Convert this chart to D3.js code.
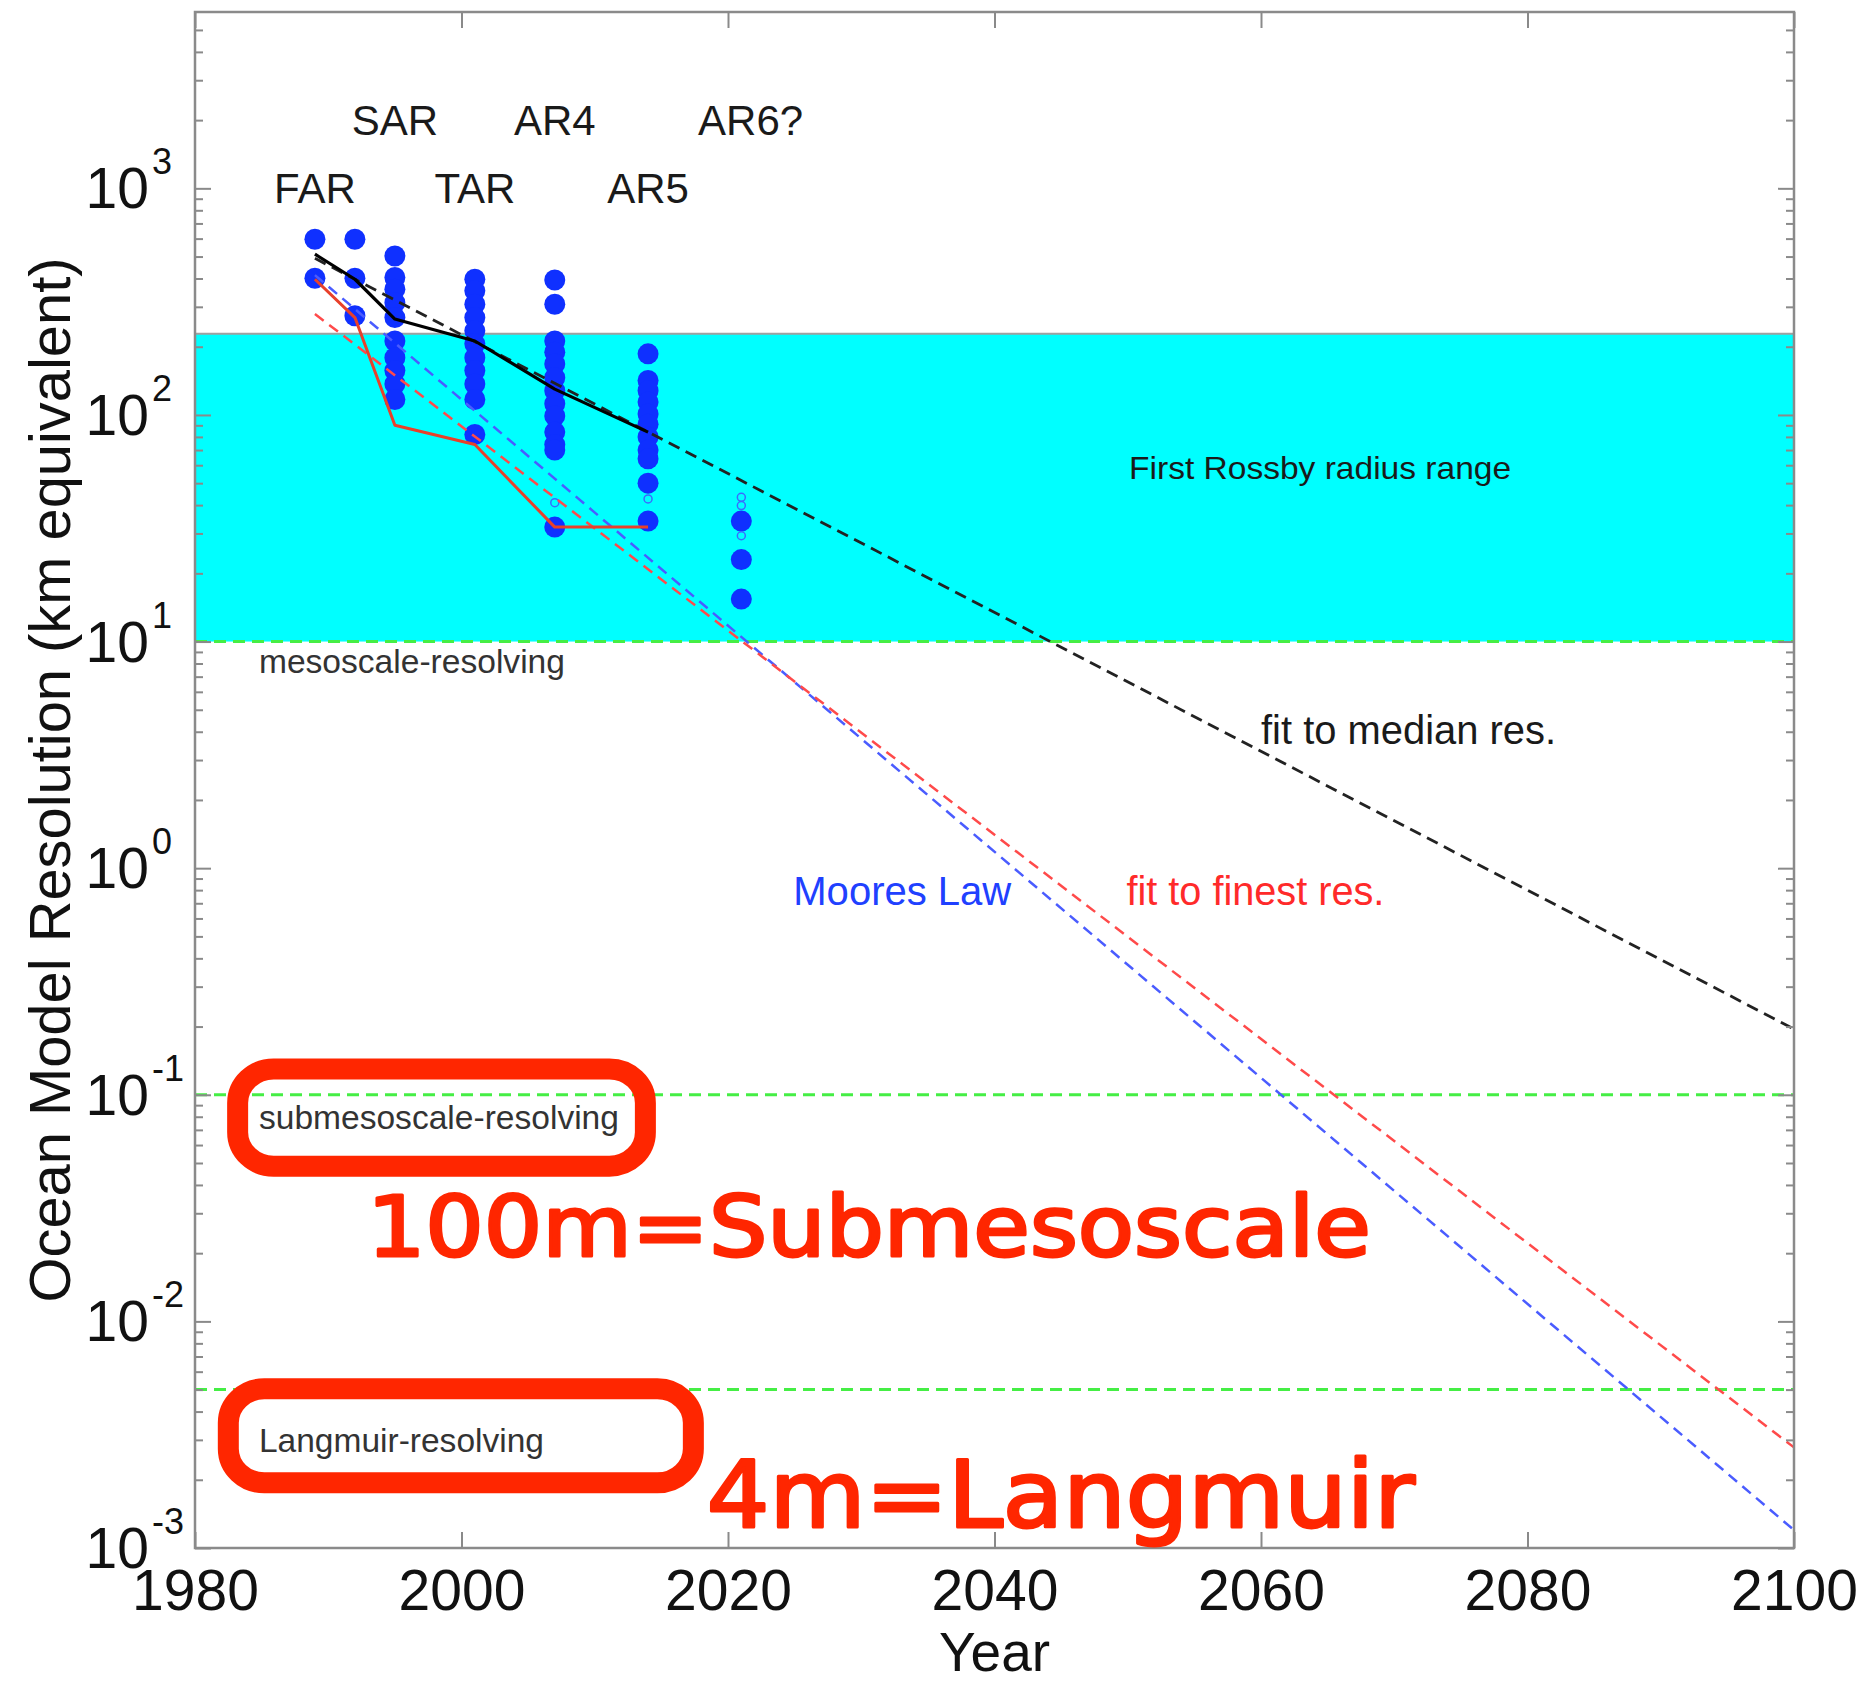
<!DOCTYPE html>
<html>
<head>
<meta charset="utf-8">
<script src="https://cdn.jsdelivr.net/npm/d3@7"></script>
<style>
	body { margin: 0; background: #fff; }
	svg { display: block; font-family: "Liberation Sans", Arial, Helvetica, sans-serif; }
	.tick line { stroke: #8a8a8a; stroke-width: 2; }
	.domain { display: none; }
</style>
</head>
<body>
<svg id="chart" width="1860" height="1682"></svg>
<script>
"use strict";

// Data

// model generations (IPCC reports) and the resolutions of their ocean models (km)
const modelYears = [1989, 1992, 1995, 2001, 2007, 2014, 2021];
const modelRes = [
	[596, 401],
	[596, 401, 274],
	[503, 404, 359, 313, 269, 212, 179, 157, 137, 117],
	[397, 353, 308, 269, 235, 206, 179, 157, 137, 117, 82],
	[394, 308, 212, 189, 168, 146, 128, 112, 99, 84, 74, 70, 32],
	[186, 142, 128, 114, 101, 91, 80, 70, 64, 50, 34],
	[34, 23, 15.4]
];
// small open markers
const openYears = [2007, 2014, 2021, 2021, 2021];
const openRes = [41, 42.6, 43.3, 39.8, 29.3];

// median and finest resolution per report
const medianYears = [1989, 1992, 1995, 2001, 2007, 2014];
const medianRes = [512, 397, 265, 212, 130, 84];
const finestYears = [1989, 1992, 1995, 2001, 2007, 2014];
const finestRes = [397, 269, 90, 74, 32, 32];

// fitted trends, start and end points
const fitYears = [1989, 2100];
const fitMedian = [491, 0.195];
const fitFinest = [279, 0.00278];
const mooresLaw = [414, 0.0012];

// reference scales (km)
const rossbyRange = [10, 228];
const scaleLines = [10, 0.1, 0.005];

// report labels
const reportNames = ["FAR", "SAR", "TAR", "AR4", "AR5", "AR6?"];
const reportYears = [1989, 1995, 2001, 2007, 2014, 2021.7];
const reportRes = [1000, 2000, 1000, 2000, 1000, 2000];

// axes
const xTicks = [1980, 2000, 2020, 2040, 2060, 2080, 2100];
const yDecades = [-3, -2, -1, 0, 1, 2, 3];

// Set up chart

const svg = d3.select("#chart");
const width = +svg.attr("width");
const height = +svg.attr("height");
const margin = { top: 12, right: 66, bottom: 134, left: 195 };

const x = d3.scaleLinear()
	.domain([1980, 2100])
	.range([margin.left, width - margin.right]);

const y = d3.scaleLog()
	.domain([1e-3, 6000])
	.range([height - margin.bottom, margin.top]);

const x0 = x.range()[0], x1 = x.range()[1];
const yTop = y.range()[1], yBottom = y.range()[0];

// Rossby radius band
svg.append("rect")
	.attr("x", x0)
	.attr("width", x1 - x0)
	.attr("y", y(rossbyRange[1]))
	.attr("height", y(rossbyRange[0]) - y(rossbyRange[1]))
	.style("fill", "#00ffff");

svg.append("line")
	.attr("x1", x0).attr("x2", x1)
	.attr("y1", y(rossbyRange[1])).attr("y2", y(rossbyRange[1]))
	.style("stroke", "#a0a0a0")
	.style("stroke-width", 2);

// green dashed scale lines
svg.append("g")
	.selectAll("line")
	.data(scaleLines)
	.enter()
	.append("line")
	.attr("x1", x0).attr("x2", x1)
	.attr("y1", d => y(d)).attr("y2", d => y(d))
	.style("stroke", "#45ee45")
	.style("stroke-width", 3)
	.style("stroke-dasharray", "12,7");

// blue dots for each model
const dots = [];
modelYears.forEach(function(yr, i) {
	modelRes[i].forEach(function(r) {
		dots.push({ year: yr, res: r });
	});
});

svg.append("g")
	.selectAll("circle")
	.data(dots)
	.enter()
	.append("circle")
	.attr("cx", d => x(d.year))
	.attr("cy", d => y(d.res))
	.attr("r", 10.5)
	.style("fill", "#0f30ff");

svg.append("g")
	.selectAll("circle")
	.data(openYears)
	.enter()
	.append("circle")
	.attr("cx", d => x(d))
	.attr("cy", (d, i) => y(openRes[i]))
	.attr("r", 4)
	.style("fill", "none")
	.style("stroke", "#3a6bff")
	.style("stroke-width", 1.5);

// lines
const line = d3.line()
	.x(d => x(d[0]))
	.y(d => y(d[1]));

function drawLine(years, values, color, w, dash) {
	svg.append("path")
		.datum(d3.zip(years, values))
		.attr("d", line)
		.style("fill", "none")
		.style("stroke", color)
		.style("stroke-width", w)
		.style("stroke-dasharray", dash)
		.style("stroke-linejoin", "round");
}

drawLine(fitYears, mooresLaw, "#4a5cff", 2.5, "11,7");
drawLine(fitYears, fitFinest, "#ff4a4a", 2.5, "11,7");
drawLine(fitYears, fitMedian, "#222", 2.8, "12,7");
drawLine(finestYears, finestRes, "#e8402a", 3, null);
drawLine(medianYears, medianRes, "#000", 3.2, null);

// report labels
svg.append("g")
	.selectAll("text")
	.data(reportNames)
	.enter()
	.append("text")
	.attr("x", (d, i) => x(reportYears[i]))
	.attr("y", (d, i) => y(reportRes[i]) + 15)
	.attr("text-anchor", "middle")
	.style("font-size", "42px")
	.style("fill", "#1a1a1a")
	.text(d => d);

// text annotations in data coordinates
const labels = [
	{ text: "First Rossby radius range", year: 2050.1, res: 52, size: 32, len: 382, color: "#1a1a1a" },
	{ text: "mesoscale-resolving", year: 1984.8, res: 7.25, size: 33, len: 306, color: "#333" },
	{ text: "fit to median res.", year: 2060, res: 3.52, size: 40, len: 295, color: "#1a1a1a" },
	{ text: "Moores Law", year: 2024.9, res: 0.686, size: 40, len: 218, color: "#2040ff" },
	{ text: "fit to finest res.", year: 2049.9, res: 0.686, size: 40, len: 258, color: "#ff2a2a" },
	{ text: "submesoscale-resolving", year: 1984.8, res: 0.0708, size: 33, len: 360, color: "#333" },
	{ text: "Langmuir-resolving", year: 1984.8, res: 0.00265, size: 33, len: 285, color: "#333" }
];

svg.append("g")
	.selectAll("text")
	.data(labels)
	.enter()
	.append("text")
	.attr("x", d => x(d.year))
	.attr("y", d => y(d.res))
	.attr("textLength", d => d.len)
	.attr("lengthAdjust", "spacingAndGlyphs")
	.style("font-size", d => d.size + "px")
	.style("fill", d => d.color)
	.text(d => d.text);

// Axes: ticks point inward on all four sides

const yMinor = [];
for (let e = -3; e <= 3; e++) {
	for (let m = 2; m <= 9; m++) {
		const v = m * Math.pow(10, e);
		if (v < 6000) yMinor.push(v);
	}
}
const yMajor = yDecades.map(e => Math.pow(10, e));

function addAxis(axis, tx, ty) {
	return svg.append("g")
		.attr("transform", "translate(" + tx + "," + ty + ")")
		.call(axis);
}

addAxis(d3.axisLeft(y).tickValues(yMajor).tickSizeInner(-16).tickSizeOuter(0).tickFormat(""), x0, 0);
addAxis(d3.axisLeft(y).tickValues(yMinor).tickSizeInner(-8).tickSizeOuter(0).tickFormat(""), x0, 0);
addAxis(d3.axisRight(y).tickValues(yMajor).tickSizeInner(-16).tickSizeOuter(0).tickFormat(""), x1, 0);
addAxis(d3.axisRight(y).tickValues(yMinor).tickSizeInner(-8).tickSizeOuter(0).tickFormat(""), x1, 0);
addAxis(d3.axisTop(x).tickValues(xTicks).tickSizeInner(-16).tickSizeOuter(0).tickFormat(""), 0, yTop);

const xAxis = addAxis(
	d3.axisBottom(x).tickValues(xTicks).tickSizeInner(-16).tickSizeOuter(0).tickPadding(22).tickFormat(d3.format("d")),
	0, yBottom);
xAxis.selectAll("text")
	.style("font-size", "57px")
	.style("fill", "#111")
	.style("font-family", null);

// frame
svg.append("rect")
	.attr("x", x0).attr("y", yTop)
	.attr("width", x1 - x0).attr("height", yBottom - yTop)
	.style("fill", "none")
	.style("stroke", "#8a8a8a")
	.style("stroke-width", 2.5);

// y tick labels as 10 with a raised exponent
const yLab = svg.append("g")
	.selectAll("g")
	.data(yDecades)
	.enter()
	.append("g");

yLab.append("text")
	.attr("x", x0 - 46)
	.attr("y", d => y(Math.pow(10, d)) + 20)
	.attr("text-anchor", "end")
	.style("font-size", "57px")
	.style("fill", "#111")
	.text("10");

yLab.append("text")
	.attr("x", x0 - 43)
	.attr("y", d => y(Math.pow(10, d)) - 14)
	.style("font-size", "36px")
	.style("fill", "#111")
	.text(d => String(d));

// axis titles
svg.append("text")
	.attr("transform", "translate(70," + ((yTop + yBottom) / 2) + ") rotate(-90)")
	.attr("text-anchor", "middle")
	.attr("textLength", 1045)
	.attr("lengthAdjust", "spacingAndGlyphs")
	.style("font-size", "57px")
	.style("fill", "#111")
	.text("Ocean Model Resolution (km equivalent)");

svg.append("text")
	.attr("x", (x0 + x1) / 2)
	.attr("y", yBottom + 123)
	.attr("text-anchor", "middle")
	.style("font-size", "55px")
	.style("fill", "#111")
	.text("Year");

// Hand-drawn highlights on top of the figure

const boxes = [
	{ year0: 1983.2, year1: 2013.8, res0: 0.13, res1: 0.0484 },
	{ year0: 1982.5, year1: 2017.4, res0: 0.00504, res1: 0.00194 }
];

svg.append("g")
	.selectAll("rect")
	.data(boxes)
	.enter()
	.append("rect")
	.attr("x", d => x(d.year0))
	.attr("y", d => y(d.res0))
	.attr("width", d => x(d.year1) - x(d.year0))
	.attr("height", d => y(d.res1) - y(d.res0))
	.attr("rx", 36)
	.attr("ry", 34)
	.style("fill", "none")
	.style("stroke", "#ff2600")
	.style("stroke-width", 21);

const notes = [
	{ text: "100m=Submesoscale", year: 1992.9, res: 0.0194, size: 84, len: 1004 },
	{ text: "4m=Langmuir", year: 2018.4, res: 0.00124, size: 92, len: 708 }
];

svg.append("g")
	.selectAll("text")
	.data(notes)
	.enter()
	.append("text")
	.attr("x", d => x(d.year))
	.attr("y", d => y(d.res))
	.attr("textLength", d => d.len)
	.attr("lengthAdjust", "spacingAndGlyphs")
	.style("font-family", "'DejaVu Sans', sans-serif")
	.style("font-size", d => d.size + "px")
	.style("fill", "#ff2600")
	.style("stroke", "#ff2600")
	.style("stroke-width", 3)
	.style("stroke-linejoin", "round")
	.text(d => d.text);
</script>
</body>
</html>
